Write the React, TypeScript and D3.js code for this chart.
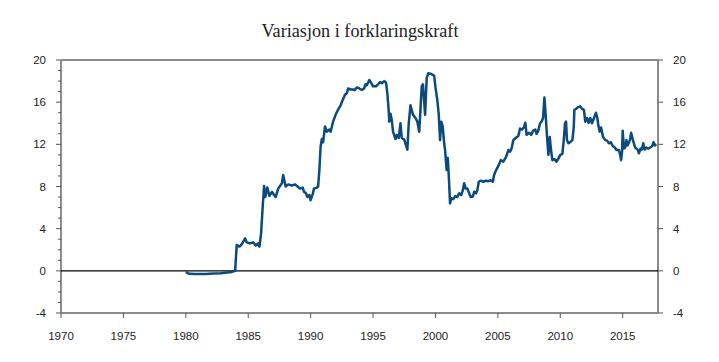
import React from "react";
import * as d3 from "d3";

const title = "Variasjon i forklaringskraft";
const xTicks = [1970, 1975, 1980, 1985, 1990, 1995, 2000, 2005, 2010, 2015];
const yTicks = [-4, 0, 4, 8, 12, 16, 20];
const yMinor = d3.range(-4, 21, 1);

const years = [
  1980.0, 1980.2, 1980.6, 1981.1, 1981.6, 1982.2, 1982.8, 1983.3, 1983.7, 1983.95,
  1984.08, 1984.3, 1984.5, 1984.75, 1984.88, 1985.14, 1985.4, 1985.6, 1985.8, 1985.9,
  1986.03, 1986.16, 1986.27, 1986.37, 1986.53, 1986.7, 1986.9, 1987.07, 1987.2, 1987.4,
  1987.7, 1987.8, 1988.0, 1988.2, 1988.5, 1988.75, 1989.0, 1989.15, 1989.36, 1989.47,
  1989.63, 1989.74, 1989.9, 1990.0, 1990.17, 1990.27, 1990.5, 1990.6, 1990.7, 1990.8,
  1990.9, 1991.0, 1991.15, 1991.3, 1991.5, 1991.6, 1991.8, 1992.0, 1992.2, 1992.4,
  1992.57, 1992.75, 1992.9, 1993.0, 1993.2, 1993.4, 1993.55, 1993.7, 1993.9, 1994.1,
  1994.28, 1994.4, 1994.5, 1994.7, 1994.86, 1995.0, 1995.24, 1995.4, 1995.56, 1995.7,
  1995.9, 1996.04, 1996.15, 1996.26, 1996.3, 1996.4, 1996.5, 1996.6, 1996.8, 1996.9,
  1997.06, 1997.2, 1997.3, 1997.5, 1997.64, 1997.75, 1997.86, 1998.0, 1998.2, 1998.4,
  1998.55, 1998.7, 1998.8, 1998.9, 1999.0, 1999.1, 1999.17, 1999.3, 1999.43, 1999.6,
  1999.78, 1999.9, 2000.0, 2000.15, 2000.26, 2000.37, 2000.47, 2000.58, 2000.7, 2000.77,
  2000.9, 2000.99, 2001.07, 2001.17, 2001.27, 2001.43, 2001.6, 2001.75, 2001.9, 2002.07,
  2002.2, 2002.3, 2002.43, 2002.56, 2002.7, 2002.83, 2003.0, 2003.1, 2003.25, 2003.36,
  2003.47, 2003.63, 2003.84, 2004.05, 2004.24, 2004.43, 2004.6, 2004.7, 2004.86, 2005.04,
  2005.23, 2005.44, 2005.66, 2005.84, 2005.98, 2006.1, 2006.24, 2006.43, 2006.64, 2006.78,
  2006.94, 2007.1, 2007.2, 2007.3, 2007.5, 2007.67, 2007.83, 2008.0, 2008.1, 2008.24,
  2008.38, 2008.5, 2008.62, 2008.73, 2008.84, 2008.94, 2009.05, 2009.16, 2009.26, 2009.37,
  2009.53, 2009.7, 2009.85, 2010.0, 2010.17, 2010.28, 2010.38, 2010.46, 2010.54, 2010.65,
  2010.8, 2010.97, 2011.08, 2011.13, 2011.3, 2011.45, 2011.6, 2011.72, 2011.9, 2012.0,
  2012.14, 2012.27, 2012.4, 2012.54, 2012.7, 2012.86, 2012.97, 2013.05, 2013.16, 2013.27,
  2013.43, 2013.6, 2013.75, 2013.9, 2014.06, 2014.2, 2014.37, 2014.5, 2014.7, 2014.8,
  2014.87, 2014.95, 2015.0, 2015.1, 2015.2, 2015.3, 2015.4, 2015.58, 2015.68, 2015.8,
  2015.9, 2016.0, 2016.2, 2016.3, 2016.43, 2016.54, 2016.65, 2016.76, 2016.9, 2017.05,
  2017.2, 2017.37, 2017.47, 2017.58, 2017.7,
];

const values = [
  -0.1, -0.25, -0.3, -0.3, -0.3, -0.25, -0.22, -0.15, -0.1, 0.0,
  2.45, 2.3, 2.55, 3.08, 2.7, 2.6, 2.7, 2.4, 2.6, 2.3,
  3.55, 6.1, 8.05, 7.0, 7.9, 7.1, 7.5, 7.2, 7.0, 7.8,
  8.3, 9.1, 8.0, 8.2, 8.1, 8.2, 7.95, 7.8, 7.9, 7.5,
  7.35, 7.0, 7.2, 6.7, 7.3, 7.8, 7.9, 8.0, 9.56, 11.8,
  12.5, 12.2, 13.7, 13.2, 13.4, 13.2, 14.15, 14.8, 15.3, 15.7,
  16.2, 16.7, 16.85, 17.3, 17.2, 17.2, 17.15, 17.4, 17.3, 17.15,
  17.3, 17.7, 17.6, 18.1, 17.8, 17.5, 17.5, 17.7, 17.9, 17.8,
  18.0, 17.85, 16.8, 15.1, 14.15, 14.9, 14.3, 13.2, 12.5, 12.9,
  12.6, 14.0, 12.6, 12.45, 11.9, 11.5, 14.0, 15.7, 14.8, 14.5,
  14.15, 13.2, 15.3, 17.5, 17.7, 16.0, 14.8, 18.3, 18.74, 18.7,
  18.6, 18.5, 17.4, 16.2, 14.9, 12.4, 14.15, 13.7, 12.1, 11.46,
  9.56, 10.7, 8.95, 6.4, 6.9, 6.8, 7.1, 7.0, 7.35, 7.2,
  7.67, 8.3, 7.8, 7.8, 7.35, 7.0, 7.05, 7.5, 7.35, 7.67,
  8.45, 8.55, 8.45, 8.55, 8.5, 8.6, 8.45, 9.1, 9.56, 9.95,
  10.5, 10.35, 10.8, 11.46, 11.3, 11.6, 12.4, 12.6, 12.8, 13.5,
  13.4, 13.65, 14.05, 12.9, 13.1, 12.9, 13.3, 13.4, 13.0, 13.3,
  14.0, 14.15, 14.5, 16.45, 14.6, 12.7, 11.0, 12.7, 11.46, 10.5,
  10.6, 10.35, 10.65, 11.0, 11.1, 12.4, 14.0, 14.15, 12.4, 12.1,
  12.2, 12.4, 13.6, 15.25, 15.4, 15.55, 15.6, 15.4, 15.25, 14.15,
  14.5, 14.05, 14.5, 14.0, 14.5, 15.0, 14.5, 13.8, 13.2, 13.6,
  12.7, 12.4, 12.35, 12.1, 12.2, 11.84, 11.7, 11.46, 11.46, 11.0,
  10.5, 11.3, 13.3, 11.6, 11.7, 12.4, 11.9, 12.4, 13.1, 12.5,
  12.1, 11.7, 11.5, 11.15, 11.6, 11.5, 12.1, 11.5, 11.7, 11.6,
  11.7, 11.84, 12.2, 11.9, 12.0,
];

const W = 719;
const H = 362;
const left = 61;
const right = 658;
const top = 60;
const bottom = 313;

export default function App() {
  const x = d3.scaleLinear().domain([1970, 2017.83]).range([left, right]);
  const y = d3.scaleLinear().domain([-4, 20]).range([bottom, top]);
  const pts: [number, number][] = years.map((yr, i) => [yr, values[i]]);
  const line = d3
    .line<[number, number]>()
    .x((d) => x(d[0]))
    .y((d) => y(d[1]));
  const axisColor = "#8c8c8c";
  const font = "'Liberation Sans', Arial, sans-serif";
  return (
    <svg
      width={W}
      height={H}
      style={{ position: "absolute", left: 0, top: 0, background: "#fff" }}
    >
      <text
        x={360}
        y={37}
        textAnchor="middle"
        fontFamily="'Liberation Serif', 'Times New Roman', serif"
        fontSize={18.2}
        fill="#222"
      >
        {title}
      </text>
      {/* frame */}
      <line x1={left} x2={right} y1={top} y2={top} stroke={axisColor} strokeWidth={2} />
      <line x1={left} x2={left} y1={top} y2={bottom} stroke={axisColor} strokeWidth={2} />
      <line x1={right} x2={right} y1={top} y2={bottom} stroke={axisColor} strokeWidth={2} />
      <line x1={left} x2={right} y1={bottom} y2={bottom} stroke={axisColor} strokeWidth={2} />
      {/* left minor ticks */}
      {yMinor.map((v) => (
        <line
          key={"m" + v}
          x1={left - (v % 4 === 0 ? 5 : 3)}
          x2={left}
          y1={y(v)}
          y2={y(v)}
          stroke="#555"
          strokeWidth={1}
        />
      ))}
      {/* left labels */}
      {yTicks.map((v) => (
        <text
          key={"l" + v}
          x={46}
          y={y(v)}
          dy="0.35em"
          textAnchor="end"
          fontFamily={font}
          fontSize={11.5}
          fill="#222"
        >
          {v}
        </text>
      ))}
      {/* right ticks and labels */}
      {yTicks.map((v) => (
        <g key={"r" + v}>
          <line x1={right} x2={right + 5} y1={y(v)} y2={y(v)} stroke="#555" strokeWidth={1} />
          <text
            x={673}
            y={y(v)}
            dy="0.35em"
            textAnchor="start"
            fontFamily={font}
            fontSize={11.5}
            fill="#222"
          >
            {v}
          </text>
        </g>
      ))}
      {/* x ticks */}
      {xTicks.map((t) => (
        <g key={"x" + t}>
          <line x1={x(t)} x2={x(t)} y1={bottom} y2={bottom + 5} stroke="#555" strokeWidth={1} />
          <text
            x={x(t)}
            y={336}
            dy="0.35em"
            textAnchor="middle"
            fontFamily={font}
            fontSize={11.5}
            fill="#222"
          >
            {t}
          </text>
        </g>
      ))}
      {/* zero line */}
      <line x1={left} x2={right} y1={y(0)} y2={y(0)} stroke="#000" strokeWidth={1.2} />
      <path
        d={line(pts) || ""}
        fill="none"
        stroke="#0b4a7c"
        strokeWidth={2.5}
        strokeLinejoin="round"
      />
    </svg>
  );
}
